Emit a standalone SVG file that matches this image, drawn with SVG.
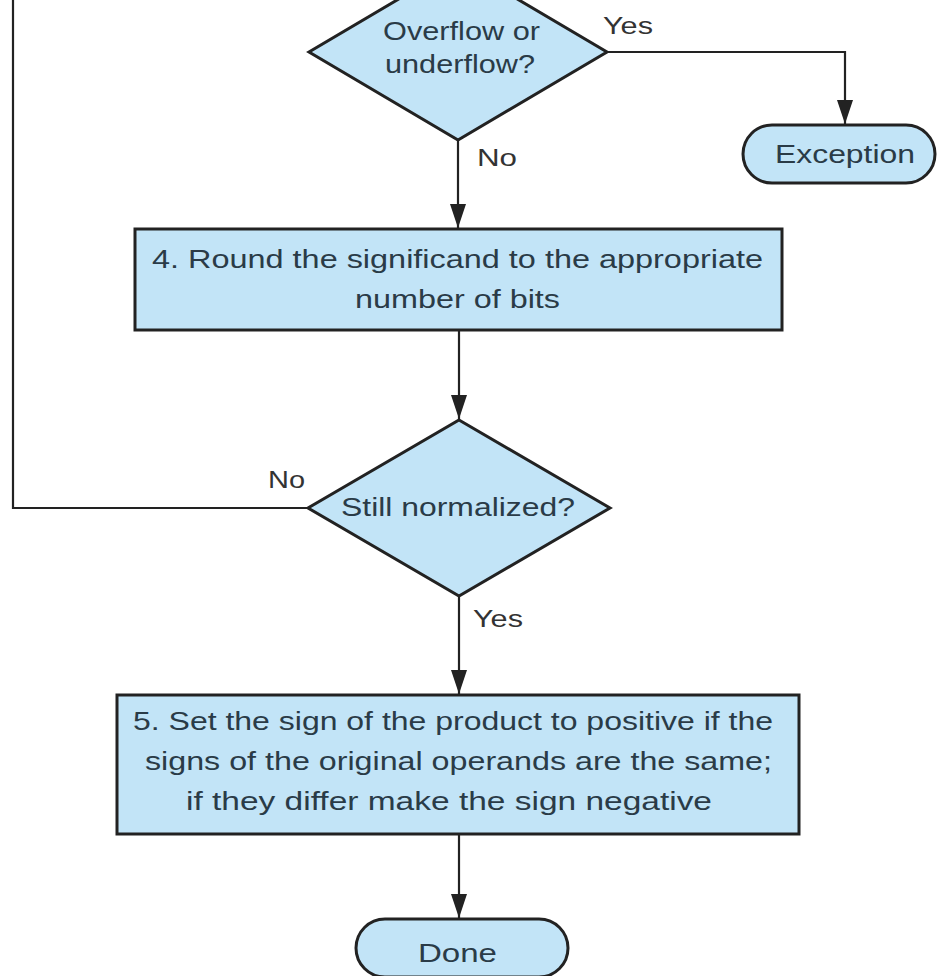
<svg xmlns="http://www.w3.org/2000/svg" width="938" height="976" viewBox="0 0 938 976">
<style>
.shape{fill:#c2e4f7;stroke:#222;stroke-width:3}
.conn{fill:none;stroke:#222;stroke-width:2.2}
.t{font-family:"Liberation Sans",Arial,sans-serif;font-size:25px;fill:#2a3b47}
.lbl{font-family:"Liberation Sans",Arial,sans-serif;font-size:23px;fill:#333}
</style>
<defs>
<marker id="arrow" viewBox="0 0 24 16" refX="24" refY="8" markerWidth="24" markerHeight="16" markerUnits="userSpaceOnUse" orient="auto">
<path d="M0,0 L24,8 L0,16 z" fill="#222"/>
</marker>
</defs>
<rect width="938" height="976" fill="#fff"/>
<g id="connectors">
<path class="conn" d="M605,52 H845 V124" marker-end="url(#arrow)"/>
<path class="conn" d="M458,140 V228" marker-end="url(#arrow)"/>
<path class="conn" d="M459,331 V419" marker-end="url(#arrow)"/>
<path class="conn" d="M308,508 H13 V0"/>
<path class="conn" d="M459,596 V694" marker-end="url(#arrow)"/>
<path class="conn" d="M459,835 V918" marker-end="url(#arrow)"/>
<text class="lbl" x="603" y="34" textLength="50" lengthAdjust="spacingAndGlyphs">Yes</text>
<text class="lbl" x="477" y="166" textLength="40" lengthAdjust="spacingAndGlyphs">No</text>
<text class="lbl" x="268" y="488" textLength="37" lengthAdjust="spacingAndGlyphs">No</text>
<text class="lbl" x="473" y="627" textLength="50" lengthAdjust="spacingAndGlyphs">Yes</text>
</g>
<g id="overflow">
<polygon class="shape" points="458,-36 607,52 458,140 309,52"/>
<text class="t" x="383" y="40" textLength="157" lengthAdjust="spacingAndGlyphs">Overflow or</text>
<text class="t" x="385" y="73" textLength="150" lengthAdjust="spacingAndGlyphs">underflow?</text>
</g>
<g id="exception">
<rect class="shape" x="743" y="125" width="192" height="58" rx="29"/>
<text class="t" x="775" y="163" textLength="140" lengthAdjust="spacingAndGlyphs">Exception</text>
</g>
<g id="round">
<rect class="shape" x="135" y="229" width="647" height="101"/>
<text class="t" x="152" y="268" textLength="611" lengthAdjust="spacingAndGlyphs">4. Round the significand to the appropriate</text>
<text class="t" x="355" y="308" textLength="205" lengthAdjust="spacingAndGlyphs">number of bits</text>
</g>
<g id="normalized">
<polygon class="shape" points="459,420 610,508 459,596 308,508"/>
<text class="t" x="341" y="516" textLength="234" lengthAdjust="spacingAndGlyphs">Still normalized?</text>
</g>
<g id="sign">
<rect class="shape" x="117" y="695" width="682" height="139"/>
<text class="t" x="133" y="730" textLength="640" lengthAdjust="spacingAndGlyphs">5. Set the sign of the product to positive if the</text>
<text class="t" x="145" y="770" textLength="627" lengthAdjust="spacingAndGlyphs">signs of the original operands are the same;</text>
<text class="t" x="186" y="810" textLength="526" lengthAdjust="spacingAndGlyphs">if they differ make the sign negative</text>
</g>
<g id="done">
<rect class="shape" x="356" y="919" width="212" height="58" rx="29"/>
<text class="t" x="418" y="962" textLength="79" lengthAdjust="spacingAndGlyphs">Done</text>
</g>
</svg>
